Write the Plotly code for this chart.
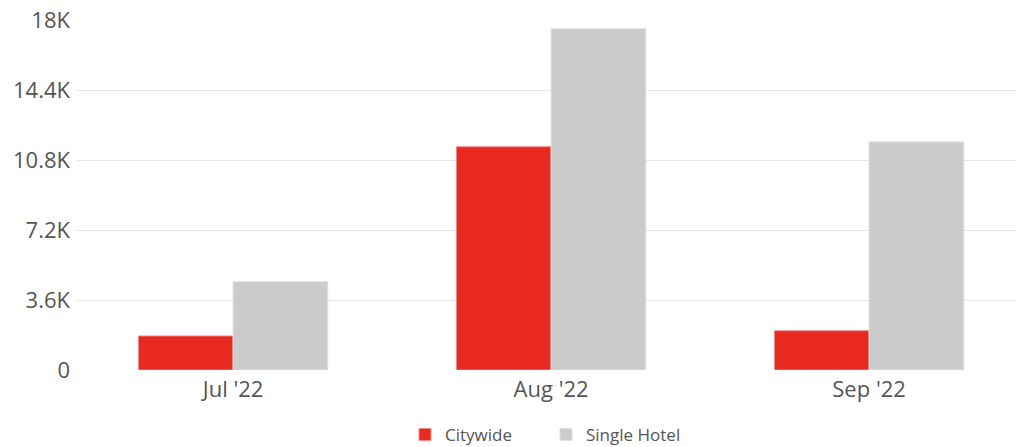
import plotly.graph_objects as go

months = ["Jul '22", "Aug '22", "Sep '22"]
citywide = [1750, 11480, 2020]
single_hotel = [4540, 17550, 11730]
y_ticks = [0, 3600, 7200, 10800, 14400, 18000]
y_tick_labels = ["0", "3.6K", "7.2K", "10.8K", "14.4K", "18K"]

fig = go.Figure()
fig.add_trace(go.Bar(
    x=months, y=citywide, name="Citywide",
    marker=dict(color="#e8291f", line=dict(color="#f08a84", width=1)),
))
fig.add_trace(go.Bar(
    x=months, y=single_hotel, name="Single Hotel",
    marker=dict(color="#cbcbcb", line=dict(color="#dedede", width=1)),
))

fig.update_layout(
    width=1018, height=447,
    margin=dict(l=76, r=2, t=20, b=77),
    plot_bgcolor="white", paper_bgcolor="white",
    font=dict(family="Open Sans", color="#555555"),
    barmode="group", bargap=0.405, bargroupgap=0,
    showlegend=True,
    # container-referenced legend so it doesn't push the bottom margin
    legend=dict(orientation="h", x=0.5, xanchor="center",
                yref="container", y=0.027, yanchor="middle",
                font=dict(size=17, color="#555555"),
                entrywidth=96, entrywidthmode="pixels"),
    xaxis=dict(range=[-0.494, 2.462], showgrid=False, zeroline=False,
               tickfont=dict(size=22, color="#555555"), ticks="", ticklabelstandoff=4),
    yaxis=dict(range=[0, 18000.5], tickvals=y_ticks, ticktext=y_tick_labels,
               showgrid=True, gridcolor="#e8e8e8", gridwidth=1, zeroline=False,
               tickfont=dict(size=22, color="#555555"), ticklabelstandoff=5),
)

# drop the default body margin so the figure sits at the window corner
fig.write_html("out.html", config={"displayModeBar": False},
               post_script="document.body.style.margin = '0';")
